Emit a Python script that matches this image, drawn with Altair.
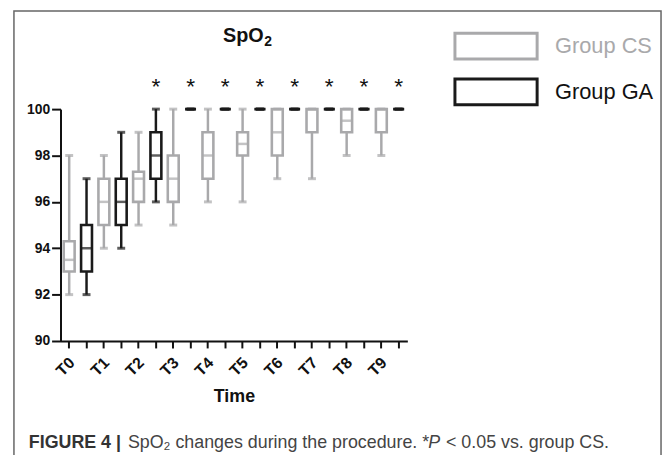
import altair as alt
import pandas as pd

times = ["T0", "T1", "T2", "T3", "T4", "T5", "T6", "T7", "T8", "T9"]
groups = ["Group CS", "Group GA"]

cs_min = [92, 94, 95, 95, 96, 96, 97, 97, 98, 98]
cs_q1 = [93, 95, 96, 96, 97, 98, 98, 99, 99, 99]
cs_med = [93.5, 96, 97, 97, 98, 98.5, 99, 100, 99.5, 100]
cs_q3 = [94.3, 97, 97.3, 98, 99, 99, 100, 100, 100, 100]
cs_max = [98, 98, 99, 100, 100, 100, 100, 100, 100, 100]

ga_min = [92, 94, 96, 100, 100, 100, 100, 100, 100, 100]
ga_q1 = [93, 95, 97, 100, 100, 100, 100, 100, 100, 100]
ga_med = [94, 96, 98, 100, 100, 100, 100, 100, 100, 100]
ga_q3 = [95, 97, 99, 100, 100, 100, 100, 100, 100, 100]
ga_max = [97, 99, 100, 100, 100, 100, 100, 100, 100, 100]

significant = [0, 0, 1, 1, 1, 1, 1, 1, 1, 1]

colors = ["#a9a9ab", "#1a1a1a"]

rows = []
slots = []
for i, t in enumerate(times):
    rows.append(dict(slot=f"{t} CS", group=groups[0], lo=cs_min[i], q1=cs_q1[i],
                     med=cs_med[i], q3=cs_q3[i], hi=cs_max[i], sig=0))
    rows.append(dict(slot=f"{t} GA", group=groups[1], lo=ga_min[i], q1=ga_q1[i],
                     med=ga_med[i], q3=ga_q3[i], hi=ga_max[i], sig=significant[i]))
    slots += [f"{t} CS", f"{t} GA"]
df = pd.DataFrame(rows)

FONT = "Liberation Sans"
W, H = 350, 234
PL, PT = 53, 100
OX, OY = 8 + PL, 8 + PT  # page position of the plot origin

x_enc = alt.X(
    "slot:N", sort=slots,
    scale=alt.Scale(paddingInner=0, paddingOuter=0),
    axis=alt.Axis(
        title="Time",
        labelExpr="indexof(datum.value, 'CS') >= 0 ? slice(datum.value, 0, 2) : ''",
        labelAngle=-45, labelAlign="right", labelBaseline="middle",
        labelFontWeight="bold", labelFontSize=16, labelColor="#111",
        labelPadding=12, labelOffset=3,
        tickSize=7, tickWidth=2, tickColor="#111",
        domainWidth=2, domainColor="#111", grid=False,
        titleFontSize=18, titleFontWeight="bold", titleColor="#111", titlePadding=9,
    ),
)
y_scale = alt.Scale(domain=[90, 100], nice=False, zero=False)
y_axis = alt.Axis(
    values=[90, 92, 94, 96, 98, 100], labelFontWeight="bold", labelFontSize=14,
    labelColor="#111", labelPadding=2, tickSize=9, tickWidth=2, tickColor="#111",
    domainWidth=2, domainColor="#111", grid=False,
)
# colour scale for whiskers / medians / caps (no legend); the stroke scale of the
# boxes carries the legend
c_scale = alt.Scale(domain=groups[::-1], range=colors[::-1])
color_nl = alt.Color("group:N", scale=c_scale, legend=None)

base = alt.Chart(df)

whisk_lo = base.mark_rule(strokeWidth=2.5).encode(
    x=x_enc, y=alt.Y("lo:Q", scale=y_scale, axis=y_axis, title=None), y2="q1:Q", color=color_nl)
whisk_hi = base.mark_rule(strokeWidth=2.5).encode(
    x=x_enc, y=alt.Y("q3:Q", title=None), y2="hi:Q", color=color_nl)

box = base.mark_bar(size=11, fill="white", strokeWidth=2.6).encode(
    x=x_enc, y=alt.Y("q1:Q", title=None), y2="q3:Q",
    stroke=alt.Stroke(
        "group:N", scale=alt.Scale(domain=groups, range=colors),
        legend=alt.Legend(
            title=None, orient="none", legendX=425, legendY=-78, padding=0,
            symbolType="M-3.19,-1H3.19V1H-3.19Z", symbolSize=676, symbolStrokeWidth=3,
            symbolFillColor="white", rowPadding=7,
            labelFont=FONT, labelFontSize=22, labelOffset=45, labelLimit=300,
            labelColor={"expr": "datum.label == 'Group CS' ? '#a9a9ab' : '#111111'"},
        ),
    ),
)

med = base.mark_tick(size=11, thickness=2.5).encode(
    x=x_enc, y=alt.Y("med:Q", title=None), color=color_nl)
cap_lo = base.mark_tick(size=8, thickness=3).encode(
    x=x_enc, y=alt.Y("lo:Q", title=None), color=color_nl)
cap_hi = base.mark_tick(size=8, thickness=3).encode(
    x=x_enc, y=alt.Y("hi:Q", title=None), color=color_nl)

stars = base.transform_filter("datum.sig == 1").mark_text(
    text="*", fontSize=23, dy=-22, color="#111", font=FONT).encode(
    x=x_enc, y=alt.Y("hi:Q", title=None))

one = alt.Data(values=[{"k": 1}])
frame = alt.Chart(one).mark_rect(fill="transparent", stroke="#666", strokeWidth=1.5).encode(
    x=alt.value(14 - OX), x2=alt.value(667 - OX), y=alt.value(9 - OY), y2=alt.value(500))

title_main = alt.Chart(one).mark_text(text="SpO", font=FONT, fontSize=20, fontWeight="bold",
                                       align="right", baseline="alphabetic", color="#111").encode(
    x=alt.value(266 - OX), y=alt.value(40 - OY))
title_sub = alt.Chart(one).mark_text(text="2", font=FONT, fontSize=14, fontWeight="bold",
                                      align="left", baseline="alphabetic", color="#111").encode(
    x=alt.value(266.5 - OX), y=alt.value(44 - OY))

cap_y = 445 - OY
cap1 = alt.Chart(one).mark_text(text="FIGURE 4 |", font=FONT, fontSize=18, fontWeight="bold",
                                 align="left", baseline="middle", color="#333").encode(
    x=alt.value(29 - OX), y=alt.value(cap_y))
cap2 = alt.Chart(one).mark_text(text="SpO₂ changes during the procedure. *", font=FONT, fontSize=18,
                                 align="left", baseline="middle", color="#444").encode(
    x=alt.value(129 - OX), y=alt.value(cap_y))
cap3 = alt.Chart(one).mark_text(text="P", font=FONT, fontSize=18, fontStyle="italic",
                                 align="left", baseline="middle", color="#444").encode(
    x=alt.value(432 - OX), y=alt.value(cap_y))
cap4 = alt.Chart(one).mark_text(text="< 0.05 vs. group CS.", font=FONT, fontSize=18,
                                 align="left", baseline="middle", color="#444").encode(
    x=alt.value(450 - OX), y=alt.value(cap_y))

chart = alt.layer(frame, title_main, title_sub, whisk_lo, whisk_hi, box, med, cap_lo, cap_hi,
                  stars, cap1, cap2, cap3, cap4).properties(
    width=W, height=H,
    autosize=alt.AutoSizeParams(type="none"),
    padding={"left": PL, "top": PT, "right": 662 - PL - W, "bottom": 447 - PT - H},
).configure(font=FONT).configure_view(stroke=None)

chart.save("out.html", embed_options={"renderer": "svg", "actions": False})
